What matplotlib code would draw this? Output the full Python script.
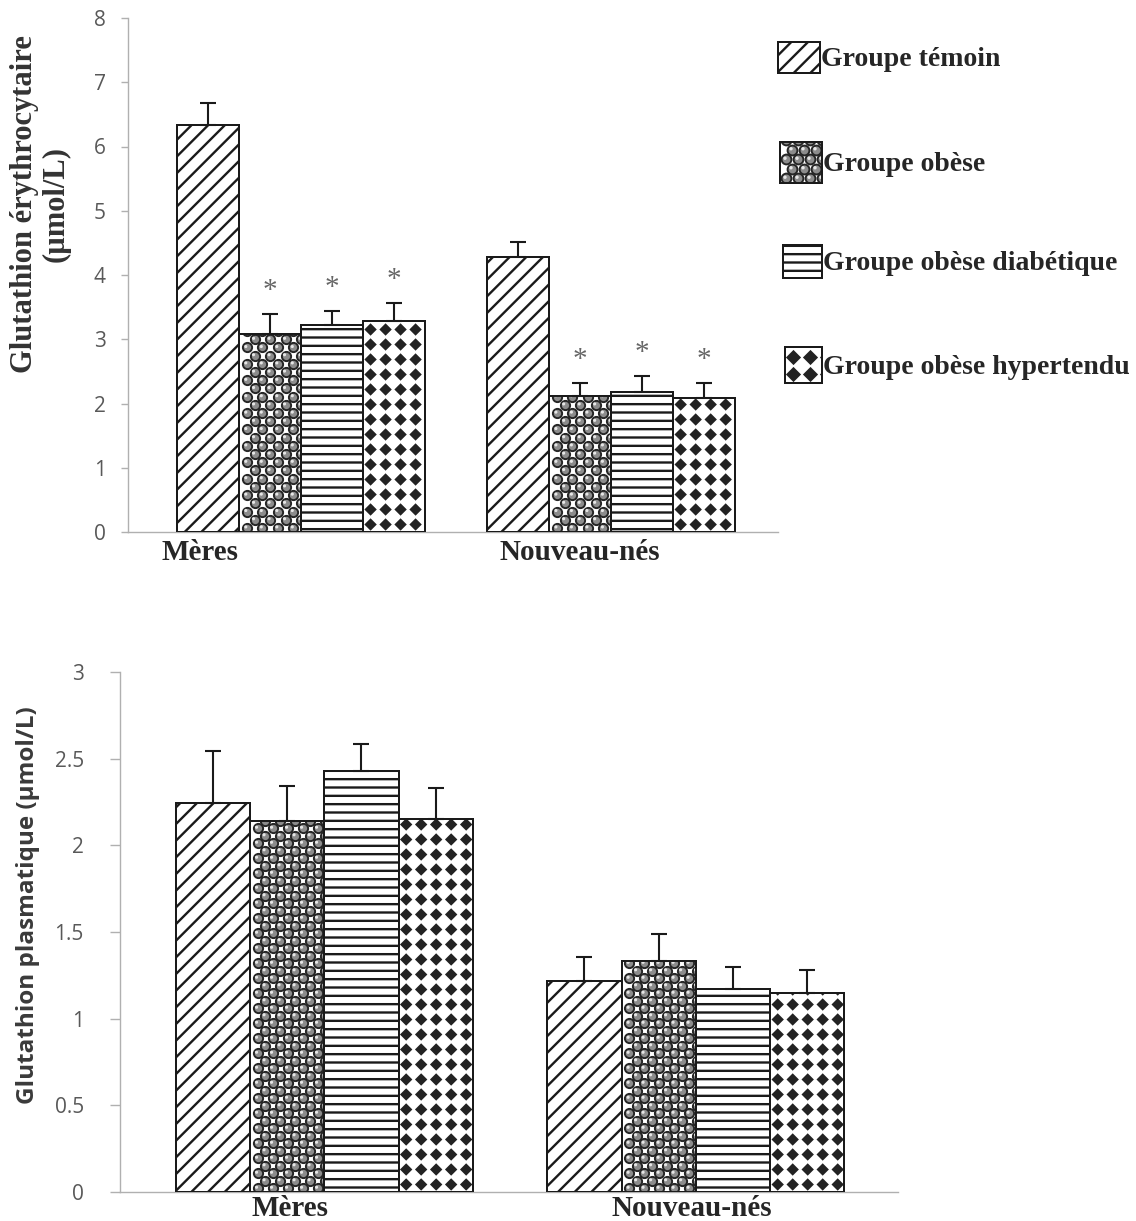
import matplotlib
matplotlib.use('Agg')
import matplotlib.pyplot as plt
import numpy as np
from matplotlib.patches import Rectangle
from matplotlib.transforms import IdentityTransform

groups = ['Mères', 'Nouveau-nés']
series = ['Groupe témoin', 'Groupe obèse', 'Groupe obèse diabétique', 'Groupe obèse hypertendu']

# glutathion érythrocytaire (µmol/L), mères / nouveau-nés
ery_temoin = [6.33, 4.28]
ery_obese = [3.08, 2.12]
ery_diab = [3.22, 2.18]
ery_hyper = [3.28, 2.09]
ery_temoin_sd = [0.35, 0.23]
ery_obese_sd = [0.31, 0.20]
ery_diab_sd = [0.22, 0.25]
ery_hyper_sd = [0.28, 0.23]
ery_signif = [False, True, True, True]

# glutathion plasmatique (µmol/L)
pla_temoin = [2.245, 1.22]
pla_obese = [2.14, 1.33]
pla_diab = [2.43, 1.17]
pla_hyper = [2.15, 1.15]
pla_temoin_sd = [0.30, 0.135]
pla_obese_sd = [0.20, 0.16]
pla_diab_sd = [0.155, 0.13]
pla_hyper_sd = [0.18, 0.13]

ery_yticks = [0, 1, 2, 3, 4, 5, 6, 7, 8]
pla_yticks = [0, 0.5, 1, 1.5, 2, 2.5, 3]
pla_yticklabels = ['0', '0.5', '1', '1.5', '2', '2.5', '3']

W, H = 1136, 1221
plt.rcParams['hatch.linewidth'] = 1.7
fig = plt.figure(figsize=(W / 100, H / 100), dpi=100)

SERIF = 'Liberation Serif'
SANS = 'Open Sans'
EDGE = '#1a1a1a'
HATCH = ['//', None, '--', None]


def axes_px(left, right, top, bottom):
    return fig.add_axes([left / W, 1 - bottom / H, (right - left) / W, (bottom - top) / H])


def fill_pattern(ax, patch, kind, sx, sy, size):
    # lay out balls / diamonds in pixel space, clipped to the bar
    x0, y0 = patch.get_x(), patch.get_y()
    x1, y1 = x0 + patch.get_width(), y0 + patch.get_height()
    (a, b), (c, d) = ax.transData.transform([(x0, y0), (x1, y1)])
    px0, px1 = min(a, c), max(a, c)
    py0, py1 = min(b, d), max(b, d)
    xs, ys = [], []
    row = 0
    y = py0 + sy * 0.5
    while y < py1 + sy:
        off = sx * 0.5 if (kind == 'ball' and row % 2) else 0
        x = px0 + sx * 0.5 + off
        while x < px1 + sx:
            xs.append(x)
            ys.append(y)
            x += sx
        y += sy
        row += 1
    if kind == 'ball':
        coll = ax.scatter(xs, ys, s=size, marker='o', facecolor='#8c8c8c',
                          edgecolor='#262626', linewidths=1.4,
                          transform=IdentityTransform(), zorder=2.5)
        hl = ax.scatter(np.array(xs) - 1, np.array(ys) + 1, s=size * 0.12, marker='o',
                        facecolor='#e6e6e6', edgecolor='none',
                        transform=IdentityTransform(), zorder=2.6)
        hl.set_clip_path(patch)
    else:
        coll = ax.scatter(xs, ys, s=size, marker='D', facecolor='#222222',
                          edgecolor='none', transform=IdentityTransform(), zorder=2.5)
    coll.set_clip_path(patch)


def draw_panel(ax, means, sds, xlim, ylim, sx_ball, sy_ball, sx_dia):
    ax.set_xlim(*xlim)
    ax.set_ylim(*ylim)
    ax.set_autoscale_on(False)
    base = np.array([0, 5])
    for i in range(4):
        xs = base + i
        bars = ax.bar(xs, means[i], width=1.0, color='white', edgecolor=EDGE,
                      linewidth=1.4, hatch=HATCH[i], zorder=2)
        if i == 1:
            for b in bars:
                fill_pattern(ax, b, 'ball', sx_ball, sy_ball, 44)
        if i == 3:
            for b in bars:
                fill_pattern(ax, b, 'diamond', sx_dia, sx_dia, 40)
        ax.bar(xs, means[i], width=1.0, fill=False, edgecolor=EDGE, linewidth=1.4, zorder=3)
        ax.errorbar(xs, means[i], yerr=[np.zeros(2), sds[i]], fmt='none', ecolor=EDGE,
                    elinewidth=1.5, capsize=6, capthick=1.5, zorder=4)
    for s in ['top', 'right']:
        ax.spines[s].set_visible(False)
    for s in ['left', 'bottom']:
        ax.spines[s].set_color('#b0b0b0')
        ax.spines[s].set_linewidth(1.0)
    ax.tick_params(axis='x', length=0)
    ax.tick_params(axis='y', colors='#b0b0b0', labelcolor='#595959', labelsize=15, width=1)
    for t in ax.get_yticklabels():
        t.set_fontfamily(SANS)


# erythrocyte panel
ax1 = axes_px(128, 778, 18, 532)
ery_means = [ery_temoin, ery_obese, ery_diab, ery_hyper]
ery_sds = [ery_temoin_sd, ery_obese_sd, ery_diab_sd, ery_hyper_sd]
ax1.set_yticks(ery_yticks)
ax1.set_yticklabels([str(v) for v in ery_yticks])
draw_panel(ax1, ery_means, ery_sds, (-1.29, 9.19), (0, 8), 15.5, 8.2, 15)
ax1.tick_params(axis='y', length=5, pad=11)
ax1.set_xticks([-0.13, 6.0])
ax1.set_xticklabels(groups, fontfamily=SERIF, fontweight='bold', fontsize=21, color='#262626')
ax1.tick_params(axis='x', pad=5)
for i in range(4):
    if ery_signif[i]:
        for g in range(2):
            ax1.text(5 * g + i, ery_means[i][g] + ery_sds[i][g] + 0.36, '*', ha='center',
                     va='center', fontfamily=SERIF, fontsize=21, color='#666666', zorder=5)

# plasma panel
ax2 = axes_px(120, 898, 672, 1192)
pla_means = [pla_temoin, pla_obese, pla_diab, pla_hyper]
pla_sds = [pla_temoin_sd, pla_obese_sd, pla_diab_sd, pla_hyper_sd]
ax2.set_yticks(pla_yticks)
ax2.set_yticklabels(pla_yticklabels)
draw_panel(ax2, pla_means, pla_sds, (-1.25, 9.22), (0, 3), 15, 7.5, 15)
ax2.tick_params(axis='y', length=7, pad=19)
ax2.set_xticks([1.04, 6.45])
ax2.set_xticklabels(groups, fontfamily=SERIF, fontweight='bold', fontsize=21, color='#262626')
ax2.tick_params(axis='x', pad=2)

# overlay in pixel coordinates for axis titles and legend
ov = fig.add_axes([0, 0, 1, 1])
ov.set_xlim(0, W)
ov.set_ylim(H, 0)
ov.set_autoscale_on(False)
ov.axis('off')
ov.patch.set_visible(False)

ov.text(40, 204, 'Glutathion érythrocytaire\n(µmol/L)', rotation=90, ha='center', va='center',
        multialignment='center', fontfamily=SERIF, fontweight='bold', fontsize=22,
        color='#333333', linespacing=1.1)
ov.text(28, 905, 'Glutathion plasmatique (µmol/L)', rotation=90, ha='center', va='center',
        fontfamily=SANS, fontweight='bold', fontsize=17.5, color='#3a3a3a')

leg_boxes = [(778, 42, 42, 31), (780, 142, 42, 41), (783, 245, 39, 33), (785, 347, 37, 36)]
for i, (bx, by, bw, bh) in enumerate(leg_boxes):
    r = Rectangle((bx, by), bw, bh, facecolor='white', edgecolor=EDGE, linewidth=1.4,
                  hatch=HATCH[i], zorder=2)
    ov.add_patch(r)
    if i == 1:
        fill_pattern(ov, r, 'ball', 12, 9.5, 50)
    if i == 3:
        fill_pattern(ov, r, 'diamond', 17, 17, 60)
    ov.add_patch(Rectangle((bx, by), bw, bh, fill=False, edgecolor=EDGE, linewidth=1.4, zorder=3))
    ov.text(bx + bw + 1, by + bh / 2 + 2, series[i], ha='left', va='center', fontfamily=SERIF,
            fontweight='bold', fontsize=20, color='#262626')

fig.savefig('out.png', dpi=100)
